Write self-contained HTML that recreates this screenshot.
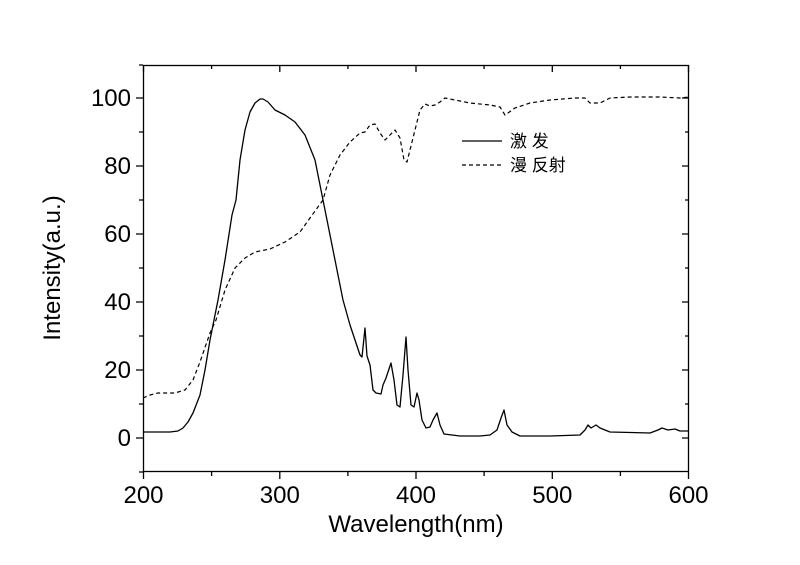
<!DOCTYPE html><html><head><meta charset="utf-8"><style>body{margin:0;background:#fff}svg{display:block}</style></head><body>
<svg width="800" height="565" xmlns="http://www.w3.org/2000/svg" font-family="Liberation Sans, sans-serif">
<rect width="800" height="565" fill="#fff"/>
<g stroke="#000" stroke-width="1.3" fill="none">
<rect x="143.5" y="65.5" width="545" height="406"/>
<path d="M143.5,472v7M211.6,472v4M279.8,472v7M347.9,472v4M416,472v7M484.1,472v4M552.3,472v7M620.4,472v4M688.5,472v7
M143.5,65v7M211.6,65v4M279.8,65v7M347.9,65v4M416,65v7M484.1,65v4M552.3,65v7M620.4,65v4M688.5,65v7
M143,438h-7M143,404h-4M143,370h-7M143,336h-4M143,302h-7M143,268h-4M143,234h-7M143,200h-4M143,166h-7M143,132h-4M143,98h-7M143,472h-4M143,65h-4
M689,438h-7M689,404h-4M689,370h-7M689,336h-4M689,302h-7M689,268h-4M689,234h-7M689,200h-4M689,166h-7M689,132h-4M689,98h-7"/>
</g>
<g font-size="24" fill="#000" text-anchor="end">
<text x="131" y="446">0</text><text x="131" y="378">20</text><text x="131" y="310">40</text><text x="131" y="242">60</text><text x="131" y="174">80</text><text x="131" y="106">100</text>
</g>
<g font-size="24" fill="#000" text-anchor="middle">
<text x="143.5" y="503">200</text><text x="279.8" y="503">300</text><text x="416" y="503">400</text><text x="552.3" y="503">500</text><text x="688.5" y="503">600</text>
<text x="416" y="532">Wavelength(nm)</text>
<text transform="translate(60,268) rotate(-90)">Intensity(a.u.)</text>
</g>
<polyline fill="none" stroke="#000" stroke-width="1.3" stroke-linejoin="round" points="143,432 170,432 178,431 183,428 188,422 193,413 200,395 205,370 210,340 218,300 225,260 232,215 236,200 240,160 245,130 250,112 255,103 260,99 263,99 268,102 275,110 285,115 295,122 305,135 315,160 323,200 333,250 343,300 350,325 355,340 360,355 362,357 365,328 367,356 370,365 373,390 376,393 381,394 383,385 386,378 391,363 394,380 397,405 400,407 403,375 406,337 408,370 411,405 414,407 417,393 419,400 422,420 426,428 430,427 433,420 437,413 440,425 444,434 460,436 480,436 490,435 497,430 501,418 504,410 507,425 512,432 520,436 550,436 580,435 585,430 588,425 591,428 596,425 600,428 610,432 650,433 658,430 662,428 668,430 675,429 680,431 689,431"/>
<polyline fill="none" stroke="#000" stroke-width="1.2" stroke-dasharray="4,3" stroke-linejoin="round" points="143,398 150,395 158,393 175,393 185,390 193,380 200,362 210,333 216,320 225,290 235,268 245,258 255,252 270,249 285,242 300,232 310,218 323,200 330,175 340,155 350,142 360,133 365,132 370,125 375,124 380,133 385,140 390,135 395,130 400,138 404,160 407,162 410,150 415,130 420,110 425,104 430,106 435,105 440,102 445,98 455,100 470,103 490,105 500,107 505,115 508,113 515,108 530,103 550,100 575,98 585,98 590,103 600,103 610,98 630,97 660,97 680,98 689,97"/>
<line x1="462" y1="141" x2="502" y2="141" stroke="#000" stroke-width="1.2"/>
<line x1="462" y1="165" x2="502" y2="165" stroke="#000" stroke-width="1.2" stroke-dasharray="4,3"/>
<g font-size="17" fill="#000" font-family="Liberation Sans, Noto Sans CJK SC, sans-serif">
<text x="510" y="147">激 发</text><text x="510" y="171">漫 反射</text>
</g>
</svg></body></html>
